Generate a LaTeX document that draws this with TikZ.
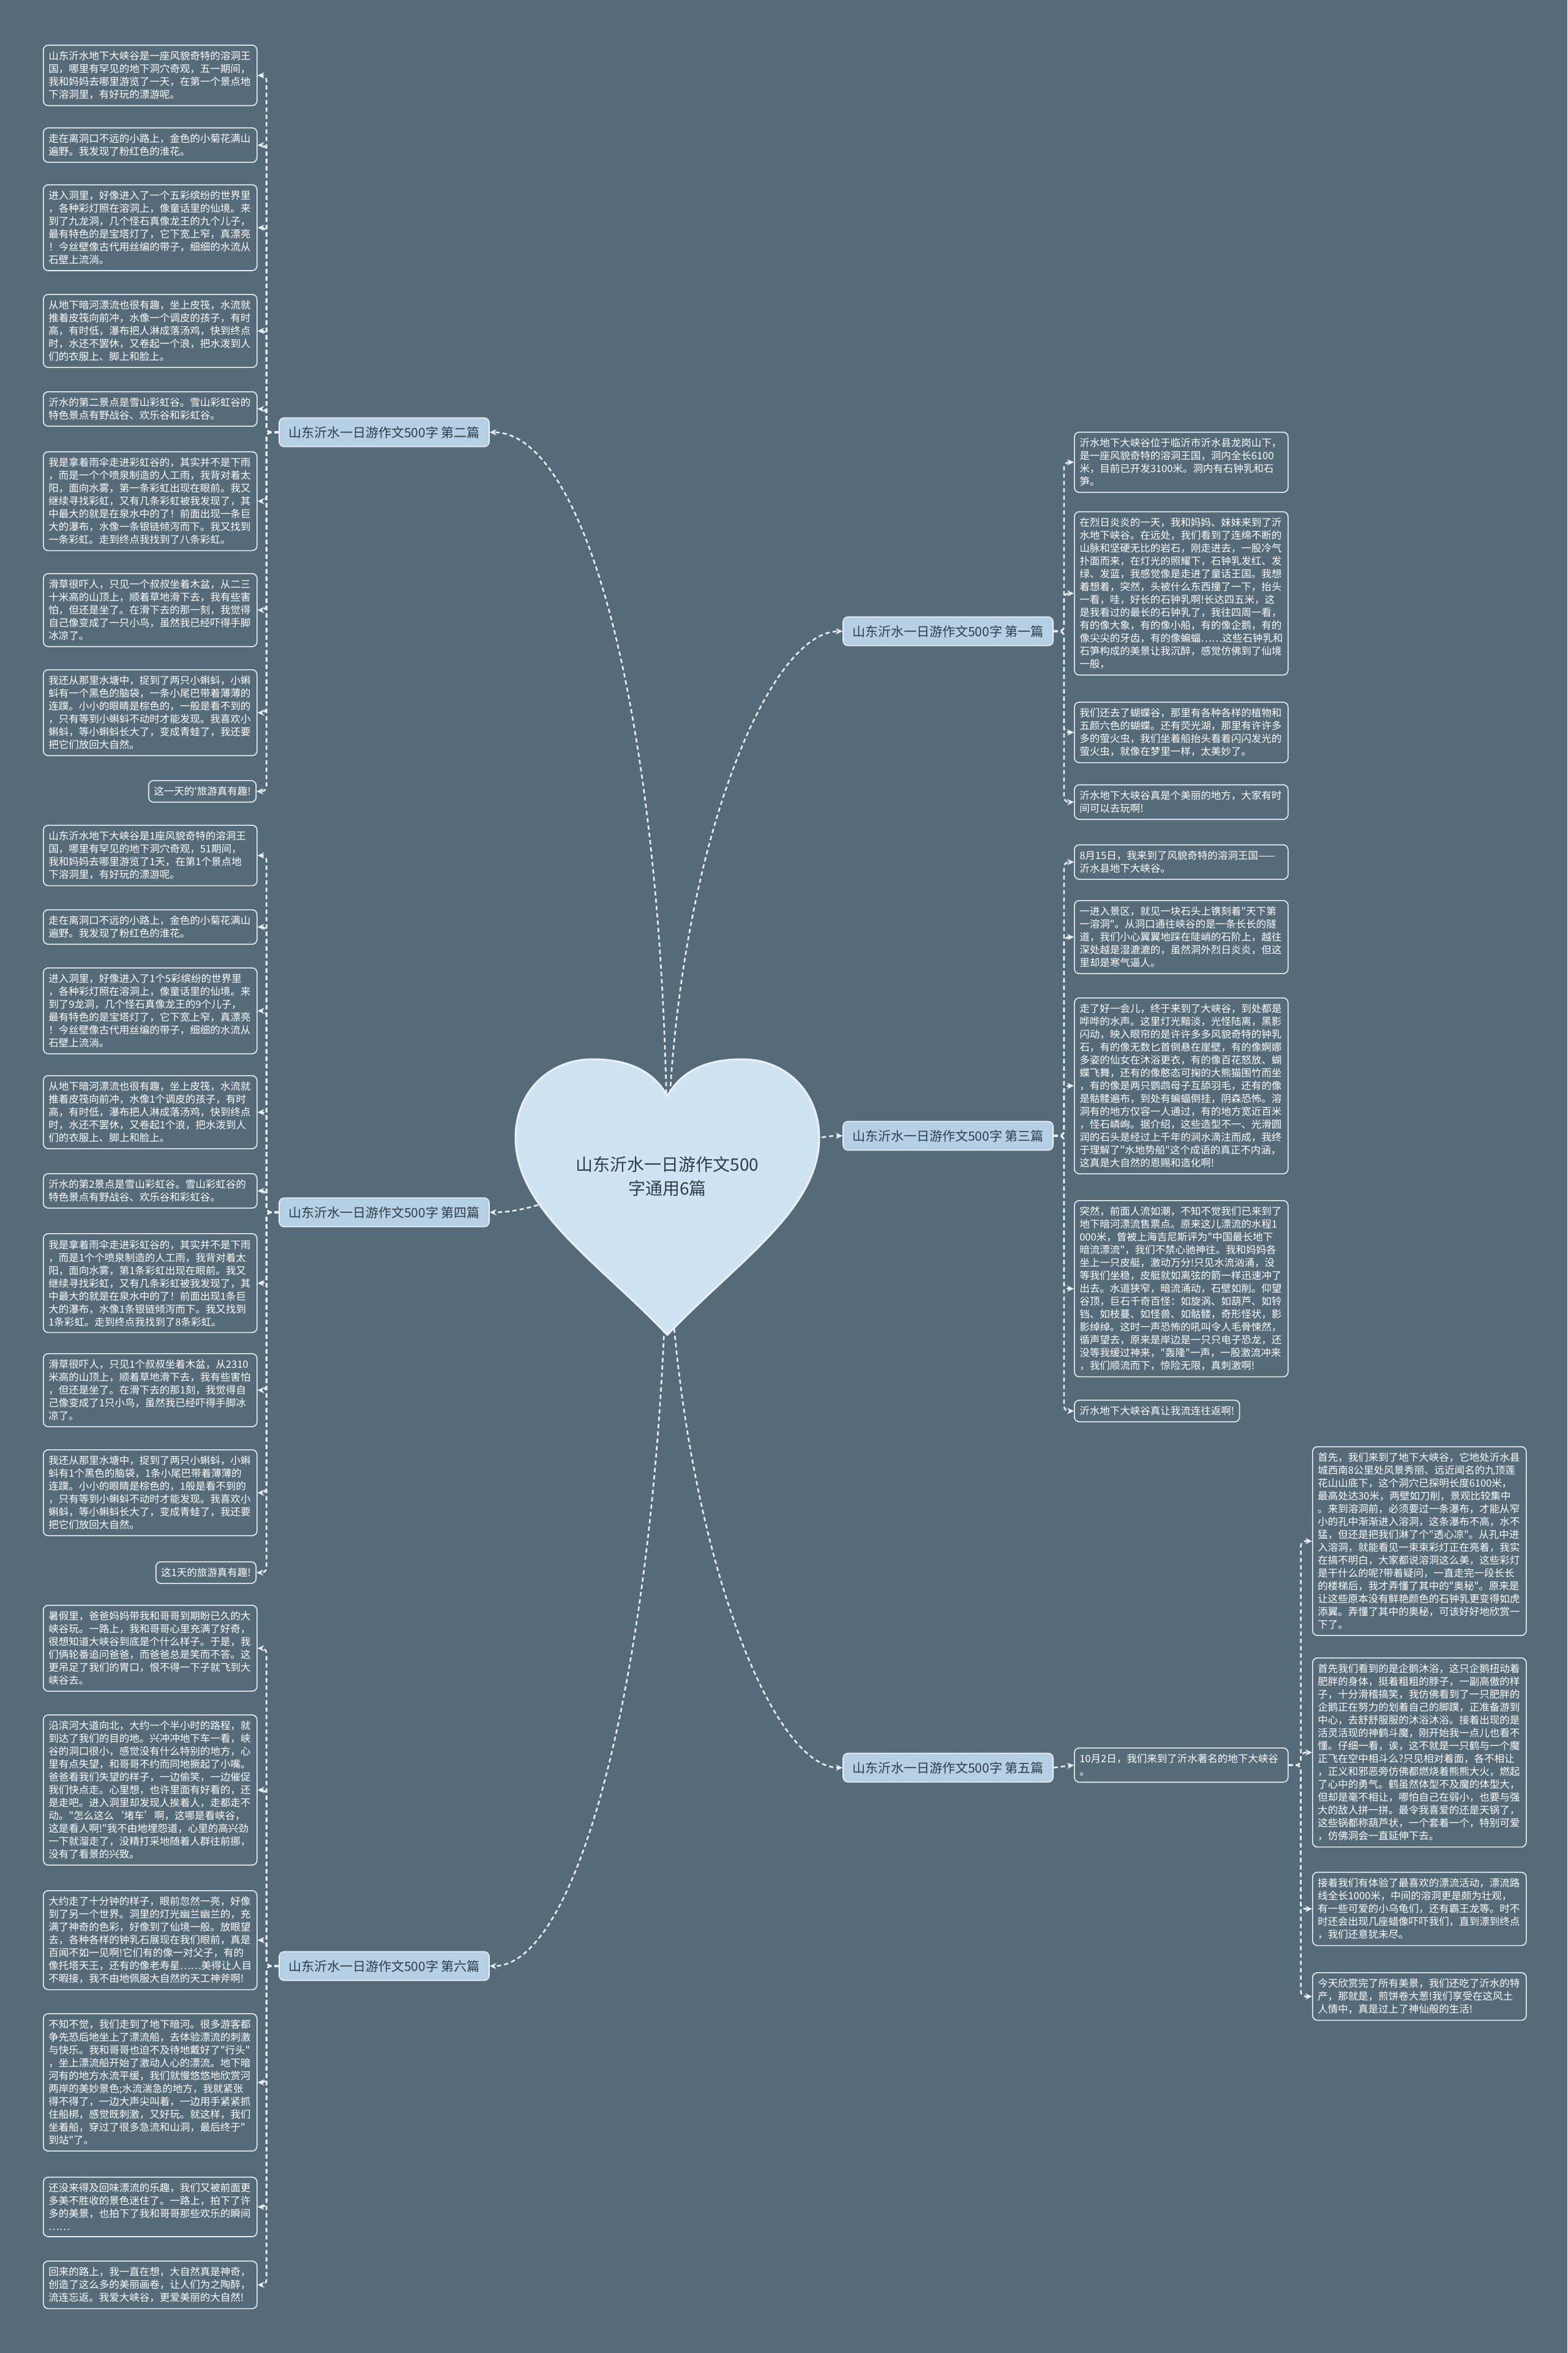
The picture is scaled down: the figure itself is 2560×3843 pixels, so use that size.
\documentclass[tikz,border=0pt]{standalone}
\usepackage{fontspec}
\newfontfamily\cjk{Noto Sans CJK SC}
\usetikzlibrary{arrows.meta, positioning}

\definecolor{fondo}{HTML}{566B7A}
\definecolor{lineaclara}{HTML}{EAF0F4}
\definecolor{ramafill}{HTML}{B5D0E4}
\definecolor{ramatexto}{HTML}{2E3D48}
\definecolor{corazon}{HTML}{CFE4F2}

\begin{document}
\begin{tikzpicture}[x=0.5pt, y=-0.5pt,
    caja/.style={draw=lineaclara, line width=0.8pt, fill=fondo, rounded corners=4pt,
        text=white, align=left, inner xsep=4.25pt, inner ysep=5pt,
        font=\cjk\fontsize{8.25}{10.5}\selectfont},
    leaf/.style={caja, text width=166pt},
    branch/.style={draw=lineaclara, line width=0.8pt, fill=ramafill, rounded corners=4pt,
        text=ramatexto, minimum width=171.5pt, minimum height=23.5pt,
        font=\cjk\fontsize{10.5}{12}\selectfont},
    link/.style={draw=lineaclara, line width=1.3pt, dash pattern=on 3.5pt off 2.5pt,
        rounded corners=4pt, -{Stealth[length=5.5pt,width=5pt]}}]

    % Fondo
    \fill[fondo] (0,0) rectangle (2560,3843);
    \useasboundingbox (0,0) rectangle (2560,3843);

    % Ramas principales
    \node[branch] (b2) at (627.5,706) {山东沂水一日游作文500字 第二篇};
    \node[branch] (b1) at (1548.5,1031) {山东沂水一日游作文500字 第一篇};
    \node[branch] (b3) at (1548.5,1855) {山东沂水一日游作文500字 第三篇};
    \node[branch] (b4) at (627.5,1980) {山东沂水一日游作文500字 第四篇};
    \node[branch] (b5) at (1548.5,2887) {山东沂水一日游作文500字 第五篇};
    \node[branch] (b6) at (627.5,3211) {山东沂水一日游作文500字 第六篇};

    % Hojas del segundo
    \node[leaf, anchor=north west] (L1) at (70,73) {山东沂水地下大峡谷是一座风貌奇特的溶洞王\\国，哪里有罕见的地下洞穴奇观，五一期间，\\我和妈妈去哪里游览了一天，在第一个景点地\\下溶洞里，有好玩的漂游呢。};
    \node[leaf, anchor=north west] (L2) at (70,208) {走在离洞口不远的小路上，金色的小菊花满山\\遍野。我发现了粉红色的淮花。};
    \node[leaf, anchor=north west] (L3) at (70,301) {进入洞里，好像进入了一个五彩缤纷的世界里\\，各种彩灯照在溶洞上，像童话里的仙境。来\\到了九龙洞，几个怪石真像龙王的九个儿子，\\最有特色的是宝塔灯了，它下宽上窄，真漂亮\\！今丝壁像古代用丝编的带子，细细的水流从\\石壁上流淌。};
    \node[leaf, anchor=north west] (L4) at (70,480) {从地下暗河漂流也很有趣，坐上皮筏，水流就\\推着皮筏向前冲，水像一个调皮的孩子，有时\\高，有时低，瀑布把人淋成落汤鸡，快到终点\\时，水还不罢休，又卷起一个浪，把水泼到人\\们的衣服上、脚上和脸上。};
    \node[leaf, anchor=north west] (L5) at (70,639) {沂水的第二景点是雪山彩虹谷。雪山彩虹谷的\\特色景点有野战谷、欢乐谷和彩虹谷。};
    \node[leaf, anchor=north west] (L6) at (70,737) {我是拿着雨伞走进彩虹谷的，其实并不是下雨\\，而是一个个喷泉制造的人工雨，我背对着太\\阳，面向水雾，第一条彩虹出现在眼前。我又\\继续寻找彩虹，又有几条彩虹被我发现了，其\\中最大的就是在泉水中的了！前面出现一条巨\\大的瀑布，水像一条银链倾泻而下。我又找到\\一条彩虹。走到终点我找到了八条彩虹。};
    \node[leaf, anchor=north west] (L7) at (70,936) {滑草很吓人，只见一个叔叔坐着木盆，从二三\\十米高的山顶上，顺着草地滑下去，我有些害\\怕，但还是坐了。在滑下去的那一刻，我觉得\\自己像变成了一只小鸟，虽然我已经吓得手脚\\冰凉了。};
    \node[leaf, anchor=north west] (L8) at (70,1093) {我还从那里水塘中，捉到了两只小蝌蚪，小蝌\\蚪有一个黑色的脑袋，一条小尾巴带着薄薄的\\连蹼。小小的眼睛是棕色的，一般是看不到的\\，只有等到小蝌蚪不动时才能发现。我喜欢小\\蝌蚪，等小蝌蚪长大了，变成青蛙了，我还要\\把它们放回大自然。};
    \node[caja, anchor=north east] (L9) at (419,1274) {这一天的'旅游真有趣!};

    % Hojas del cuarto
    \node[leaf, anchor=north west] (M1) at (70,1347) {山东沂水地下大峡谷是1座风貌奇特的溶洞王\\国，哪里有罕见的地下洞穴奇观，51期间，\\我和妈妈去哪里游览了1天，在第1个景点地\\下溶洞里，有好玩的漂游呢。};
    \node[leaf, anchor=north west] (M2) at (70,1485) {走在离洞口不远的小路上，金色的小菊花满山\\遍野。我发现了粉红色的淮花。};
    \node[leaf, anchor=north west] (M3) at (70,1580) {进入洞里，好像进入了1个5彩缤纷的世界里\\，各种彩灯照在溶洞上，像童话里的仙境。来\\到了9龙洞，几个怪石真像龙王的9个儿子，\\最有特色的是宝塔灯了，它下宽上窄，真漂亮\\！今丝壁像古代用丝编的带子，细细的水流从\\石壁上流淌。};
    \node[leaf, anchor=north west] (M4) at (70,1756) {从地下暗河漂流也很有趣，坐上皮筏，水流就\\推着皮筏向前冲，水像1个调皮的孩子，有时\\高，有时低，瀑布把人淋成落汤鸡，快到终点\\时，水还不罢休，又卷起1个浪，把水泼到人\\们的衣服上、脚上和脸上。};
    \node[leaf, anchor=north west] (M5) at (70,1916) {沂水的第2景点是雪山彩虹谷。雪山彩虹谷的\\特色景点有野战谷、欢乐谷和彩虹谷。};
    \node[leaf, anchor=north west] (M6) at (70,2014) {我是拿着雨伞走进彩虹谷的，其实并不是下雨\\，而是1个个喷泉制造的人工雨，我背对着太\\阳，面向水雾，第1条彩虹出现在眼前。我又\\继续寻找彩虹，又有几条彩虹被我发现了，其\\中最大的就是在泉水中的了！前面出现1条巨\\大的瀑布，水像1条银链倾泻而下。我又找到\\1条彩虹。走到终点我找到了8条彩虹。};
    \node[leaf, anchor=north west] (M7) at (70,2210) {滑草很吓人，只见1个叔叔坐着木盆，从2310\\米高的山顶上，顺着草地滑下去，我有些害怕\\，但还是坐了。在滑下去的那1刻，我觉得自\\己像变成了1只小鸟，虽然我已经吓得手脚冰\\凉了。};
    \node[leaf, anchor=north west] (M8) at (70,2367) {我还从那里水塘中，捉到了两只小蝌蚪，小蝌\\蚪有1个黑色的脑袋，1条小尾巴带着薄薄的\\连蹼。小小的眼睛是棕色的，1般是看不到的\\，只有等到小蝌蚪不动时才能发现。我喜欢小\\蝌蚪，等小蝌蚪长大了，变成青蛙了，我还要\\把它们放回大自然。};
    \node[caja, anchor=north east] (M9) at (419,2550) {这1天的旅游真有趣!};

    % Hojas del sexto
    \node[leaf, anchor=north west] (S1) at (70,2621) {暑假里，爸爸妈妈带我和哥哥到期盼已久的大\\峡谷玩。一路上，我和哥哥心里充满了好奇，\\很想知道大峡谷到底是个什么样子。于是，我\\们俩轮番追问爸爸，而爸爸总是笑而不答。这\\更吊足了我们的胃口，恨不得一下子就飞到大\\峡谷去。};
    \node[leaf, anchor=north west] (S2) at (70,2800) {沿滨河大道向北，大约一个半小时的路程，就\\到达了我们的目的地。兴冲冲地下车一看，峡\\谷的洞口很小，感觉没有什么特别的地方，心\\里有点失望，和哥哥不约而同地撅起了小嘴。\\爸爸看我们失望的样子，一边偷笑，一边催促\\我们快点走。心里想，也许里面有好看的，还\\是走吧。进入洞里却发现人挨着人，走都走不\\动。"怎么这么‘堵车’啊，这哪是看峡谷，\\这是看人啊!"我不由地埋怨道，心里的高兴劲\\一下就溜走了，没精打采地随着人群往前挪，\\没有了看景的兴致。};
    \node[leaf, anchor=north west] (S3) at (70,3087) {大约走了十分钟的样子，眼前忽然一亮，好像\\到了另一个世界。洞里的灯光幽兰幽兰的，充\\满了神奇的色彩，好像到了仙境一般。放眼望\\去，各种各样的钟乳石展现在我们眼前，真是\\百闻不如一见啊!它们有的像一对父子，有的\\像托塔天王，还有的像老寿星……美得让人目\\不暇接，我不由地佩服大自然的天工神斧啊!};
    \node[leaf, anchor=north west] (S4) at (70,3288) {不知不觉，我们走到了地下暗河。很多游客都\\争先恐后地坐上了漂流船，去体验漂流的刺激\\与快乐。我和哥哥也迫不及待地戴好了"行头"\\，坐上漂流船开始了激动人心的漂流。地下暗\\河有的地方水流平缓，我们就慢悠悠地欣赏河\\两岸的美妙景色;水流湍急的地方，我就紧张\\得不得了，一边大声尖叫着，一边用手紧紧抓\\住船梆，感觉既刺激，又好玩。就这样，我们\\坐着船，穿过了很多急流和山洞，最后终于"\\到站"了。};
    \node[leaf, anchor=north west] (S5) at (70,3555) {还没来得及回味漂流的乐趣，我们又被前面更\\多美不胜收的景色迷住了。一路上，拍下了许\\多的美景，也拍下了我和哥哥那些欢乐的瞬间\\……};
    \node[leaf, anchor=north west] (S6) at (70,3692) {回来的路上，我一直在想，大自然真是神奇，\\创造了这么多的美丽画卷，让人们为之陶醉，\\流连忘返。我爱大峡谷，更爱美丽的大自然!};

    % Hojas del primero
    \node[leaf, anchor=north west] (R1) at (1754,705) {沂水地下大峡谷位于临沂市沂水县龙岗山下，\\是一座风貌奇特的溶洞王国，洞内全长6100\\米，目前已开发3100米。洞内有石钟乳和石\\笋。};
    \node[leaf, anchor=north west] (R2) at (1754,835) {在烈日炎炎的一天，我和妈妈、妹妹来到了沂\\水地下峡谷。在远处，我们看到了连绵不断的\\山脉和坚硬无比的岩石，刚走进去，一股冷气\\扑面而来，在灯光的照耀下，石钟乳发红、发\\绿、发蓝，我感觉像是走进了童话王国。我想\\着想着，突然，头被什么东西撞了一下，抬头\\一看，哇，好长的石钟乳啊!长达四五米，这\\是我看过的最长的石钟乳了，我往四周一看，\\有的像大象，有的像小船，有的像企鹅，有的\\像尖尖的牙齿，有的像蝙蝠……这些石钟乳和\\石笋构成的美景让我沉醉，感觉仿佛到了仙境\\一般，};
    \node[leaf, anchor=north west] (R3) at (1754,1146) {我们还去了蝴蝶谷，那里有各种各样的植物和\\五颜六色的蝴蝶。还有荧光湖，那里有许许多\\多的萤火虫，我们坐着船抬头看着闪闪发光的\\萤火虫，就像在梦里一样，太美妙了。};
    \node[leaf, anchor=north west] (R4) at (1754,1281) {沂水地下大峡谷真是个美丽的地方，大家有时\\间可以去玩啊!};

    % Hojas del tercero
    \node[leaf, anchor=north west] (T1) at (1754,1379) {8月15日，我来到了风貌奇特的溶洞王国——\\沂水县地下大峡谷。};
    \node[leaf, anchor=north west] (T2) at (1754,1470) {一进入景区，就见一块石头上镌刻着"天下第\\一溶洞"。从洞口通往峡谷的是一条长长的隧\\道，我们小心翼翼地踩在陡峭的石阶上，越往\\深处越是湿漉漉的，虽然洞外烈日炎炎，但这\\里却是寒气逼人。};
    \node[leaf, anchor=north west] (T3) at (1754,1629) {走了好一会儿，终于来到了大峡谷，到处都是\\哗哗的水声。这里灯光黯淡，光怪陆离，黑影\\闪动，映入眼帘的是许许多多风貌奇特的钟乳\\石，有的像无数匕首倒悬在崖壁，有的像婀娜\\多姿的仙女在沐浴更衣，有的像百花怒放、蝴\\蝶飞舞，还有的像憨态可掬的大熊猫围竹而坐\\，有的像是两只鹦鹉母子互舔羽毛，还有的像\\是骷髅遍布，到处有蝙蝠倒挂，阴森恐怖。溶\\洞有的地方仅容一人通过，有的地方宽近百米\\，怪石嶙峋。据介绍，这些造型不一、光滑圆\\润的石头是经过上千年的涧水滴注而成，我终\\于理解了"水地势船"这个成语的真正不内涵，\\这真是大自然的恩赐和造化啊!};
    \node[leaf, anchor=north west] (T4) at (1754,1960) {突然，前面人流如潮，不知不觉我们已来到了\\地下暗河漂流售票点。原来这儿漂流的水程1\\000米，曾被上海吉尼斯评为"中国最长地下\\暗流漂流"，我们不禁心驰神往。我和妈妈各\\坐上一只皮艇，激动万分!只见水流汹涌，没\\等我们坐稳，皮艇就如离弦的箭一样迅速冲了\\出去。水道狭窄，暗流涌动，石壁如削。仰望\\谷顶，巨石千奇百怪：如旋涡、如葫芦、如铃\\铛、如枝蔓、如怪兽、如骷髅，奇形怪状，影\\影绰绰。这时一声恐怖的吼叫令人毛骨悚然，\\循声望去，原来是岸边是一只只电子恐龙，还\\没等我缓过神来，"轰隆"一声，一股激流冲来\\，我们顺流而下，惊险无限，真刺激啊!};
    \node[caja, anchor=north west] (T5) at (1754,2286) {沂水地下大峡谷真让我流连往返啊!};

    % Hojas del quinto
    \node[leaf, anchor=north west] (D) at (1754,2854) {10月2日，我们来到了沂水著名的地下大峡谷\\。};
    \node[leaf, anchor=north west] (F1) at (2143,2362) {首先，我们来到了地下大峡谷，它地处沂水县\\城西南8公里处风景秀丽、远近闻名的九顶莲\\花山山底下，这个洞穴已探明长度6100米，\\最高处达30米，两壁如刀削，景观比较集中\\。来到溶洞前，必须要过一条瀑布，才能从窄\\小的孔中渐渐进入溶洞，这条瀑布不高，水不\\猛，但还是把我们淋了个"透心凉"。从孔中进\\入溶洞，就能看见一束束彩灯正在亮着，我实\\在搞不明白，大家都说溶洞这么美，这些彩灯\\是干什么的呢?带着疑问，一直走完一段长长\\的楼梯后，我才弄懂了其中的"奥秘"。原来是\\让这些原本没有鲜艳颜色的石钟乳更变得如虎\\添翼。弄懂了其中的奥秘，可该好好地欣赏一\\下了。};
    \node[leaf, anchor=north west] (F2) at (2143,2707) {首先我们看到的是企鹅沐浴，这只企鹅扭动着\\肥胖的身体，挺着粗粗的脖子，一副高傲的样\\子，十分滑稽搞笑，我仿佛看到了一只肥胖的\\企鹅正在努力的划着自己的脚蹼，正准备游到\\中心，去舒舒服服的沐浴沐浴。接着出现的是\\活灵活现的神鹤斗魔，刚开始我一点儿也看不\\懂。仔细一看，诶，这不就是一只鹤与一个魔\\正飞在空中相斗么?只见相对着面，各不相让\\，正义和邪恶旁仿佛都燃烧着熊熊大火，燃起\\了心中的勇气。鹤虽然体型不及魔的体型大，\\但却是毫不相让，哪怕自己在弱小，也要与强\\大的敌人拼一拼。最令我喜爱的还是天锅了，\\这些锅都称葫芦状，一个套着一个，特别可爱\\，仿佛洞会一直延伸下去。};
    \node[leaf, anchor=north west] (F3) at (2143,3057) {接着我们有体验了最喜欢的漂流活动，漂流路\\线全长1000米，中间的溶洞更是颇为壮观，\\有一些可爱的小乌龟们，还有霸王龙等。时不\\时还会出现几座蜡像吓吓我们，直到漂到终点\\，我们还意犹未尽。};
    \node[leaf, anchor=north west] (F4) at (2143,3221) {今天欣赏完了所有美景，我们还吃了沂水的特\\产，那就是，煎饼卷大葱!我们享受在这风土\\人情中，真是过上了神仙般的生活!};

    % Conectores de las hojas
    \draw[link] (b2.west) -- ++(-20,0) |- (L1.east);
    \draw[link] (b2.west) -- ++(-20,0) |- (L2.east);
    \draw[link] (b2.west) -- ++(-20,0) |- (L3.east);
    \draw[link] (b2.west) -- ++(-20,0) |- (L4.east);
    \draw[link] (b2.west) -- ++(-20,0) |- (L5.east);
    \draw[link] (b2.west) -- ++(-20,0) |- (L6.east);
    \draw[link] (b2.west) -- ++(-20,0) |- (L7.east);
    \draw[link] (b2.west) -- ++(-20,0) |- (L8.east);
    \draw[link] (b2.west) -- ++(-20,0) |- (L9.east);

    \draw[link] (b4.west) -- ++(-20,0) |- (M1.east);
    \draw[link] (b4.west) -- ++(-20,0) |- (M2.east);
    \draw[link] (b4.west) -- ++(-20,0) |- (M3.east);
    \draw[link] (b4.west) -- ++(-20,0) |- (M4.east);
    \draw[link] (b4.west) -- ++(-20,0) |- (M5.east);
    \draw[link] (b4.west) -- ++(-20,0) |- (M6.east);
    \draw[link] (b4.west) -- ++(-20,0) |- (M7.east);
    \draw[link] (b4.west) -- ++(-20,0) |- (M8.east);
    \draw[link] (b4.west) -- ++(-20,0) |- (M9.east);

    \draw[link] (b6.west) -- ++(-20,0) |- (S1.east);
    \draw[link] (b6.west) -- ++(-20,0) |- (S2.east);
    \draw[link] (b6.west) -- ++(-20,0) |- (S3.east);
    \draw[link] (b6.west) -- ++(-20,0) |- (S4.east);
    \draw[link] (b6.west) -- ++(-20,0) |- (S5.east);
    \draw[link] (b6.west) -- ++(-20,0) |- (S6.east);

    \draw[link] (b1.east) -- ++(17,0) |- (R1.west);
    \draw[link] (b1.east) -- ++(17,0) |- (R2.west);
    \draw[link] (b1.east) -- ++(17,0) |- (R3.west);
    \draw[link] (b1.east) -- ++(17,0) |- (R4.west);

    \draw[link] (b3.east) -- ++(17,0) |- (T1.west);
    \draw[link] (b3.east) -- ++(17,0) |- (T2.west);
    \draw[link] (b3.east) -- ++(17,0) |- (T3.west);
    \draw[link] (b3.east) -- ++(17,0) |- (T4.west);
    \draw[link] (b3.east) -- ++(17,0) |- (T5.west);

    \draw[link] (b5.east) -- (D.west);
    \draw[link] (D.east) -- ++(20,0) |- (F1.west);
    \draw[link] (D.east) -- ++(20,0) |- (F2.west);
    \draw[link] (D.east) -- ++(20,0) |- (F3.west);
    \draw[link] (D.east) -- ++(20,0) |- (F4.west);

    % Curvas desde el centro
    \coordinate (hub) at (1090,1930);
    \draw[link] (hub) .. controls (1090,1190) and (960,706) .. (b2.east);
    \draw[link] (hub) .. controls (1090,1430) and (1248,1031) .. (b1.west);
    \draw[link] (hub) .. controls (1230,1925) and (1290,1855) .. (b3.west);
    \draw[link] (hub) .. controls (950,1925) and (890,1980) .. (b4.east);
    \draw[link] (hub) .. controls (1090,2450) and (1248,2887) .. (b5.west);
    \draw[link] (hub) .. controls (1090,2630) and (960,3211) .. (b6.east);

    % Corazon central
    \filldraw[fill=corazon, draw=lineaclara, line width=1.5pt]
        (1090,1790) .. controls (1065,1745) and (1020,1730) .. (968,1730)
        .. controls (895,1730) and (842,1785) .. (842,1858)
        .. controls (842,1975) and (975,2060) .. (1090,2180)
        .. controls (1205,2060) and (1338,1975) .. (1338,1858)
        .. controls (1338,1785) and (1285,1730) .. (1212,1730)
        .. controls (1160,1730) and (1115,1745) .. (1090,1790) -- cycle;
    \node[text=ramatexto, align=center, font=\cjk\fontsize{14}{19.5}\selectfont] (title) at (1090,1921) {山东沂水一日游作文500\\字通用6篇};
\end{tikzpicture}
\end{document}
